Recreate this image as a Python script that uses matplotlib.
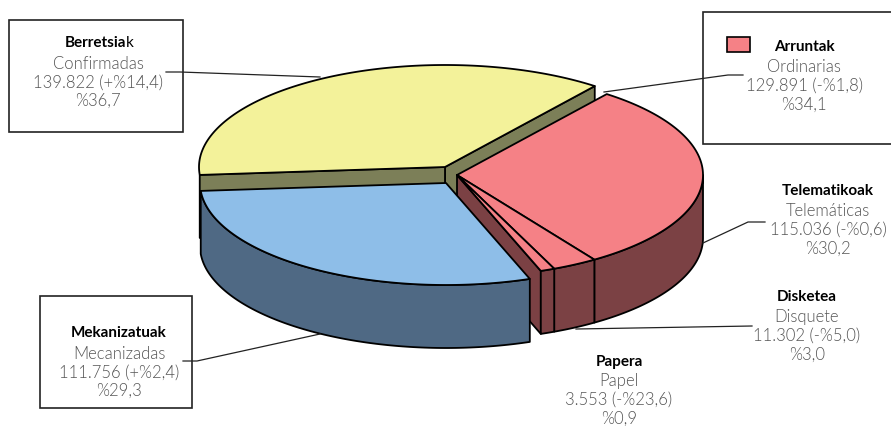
import numpy as np
import matplotlib
matplotlib.use("Agg")
import matplotlib.pyplot as plt

# Counts per channel
names = ["Telematikoak", "Disketea", "Papera", "Mekanizatuak", "Berretsiak"]
counts = [115036, 11302, 3553, 111756, 139822]

# Text of the boxes
arruntak_lines = ["Ordinarias", "129.891 (-%1,8)", "%34,1"]
berretsia_lines = ["Confirmadas", "139.822 (+%14,4)", "%36,7"]
meka_lines = ["Mecanizadas", "111.756 (+%2,4)", "%29,3"]
tele_lines = ["Telemáticas", "115.036 (-%0,6)", "%30,2"]
disk_lines = ["Disquete", "11.302 (-%5,0)", "%3,0"]
paper_lines = ["Papel", "3.553 (-%23,6)", "%0,9"]

YELLOW, OLIVE = "#F3F29A", "#7C7F58"
RED, DARKRED = "#F58186", "#7B4144"
BLUE, DARKBLUE = "#8EBEE8", "#4F6984"
TEXTGREY = "#555555"

RX, RY, DEPTH = 246, 102, 63
START = 52.5
plt.rcParams["font.family"] = ["Lato", "DejaVu Sans"]

# Angles from the counts, going counter clockwise from the start
shares = np.array(counts) / sum(counts) * 360.
yellow_a = (START, START + shares[4])
blue_a = (yellow_a[1], yellow_a[1] + shares[3])
paper_a = (blue_a[1], blue_a[1] + shares[2])
disk_a = (paper_a[1], paper_a[1] + shares[1])
tele_a = (disk_a[1], disk_a[1] + shares[0])


def rim(c, a0, a1, dy=0):
    t = np.radians(np.linspace(a0, a1, 120))
    return c[0] + RX * np.cos(t), c[1] - RY * np.sin(t) + dy


def poly(ax, x, y, color, z):
    ax.fill(x, y, facecolor=color, edgecolor="black", lw=1.3, joinstyle="round", zorder=z)


def top(ax, c, a, color, z):
    x, y = rim(c, a[0], a[1])
    poly(ax, np.r_[c[0], x], np.r_[c[1], y], color, z)


def outer_wall(ax, c, a, color, z):
    x, y = rim(c, a[0], a[1])
    x2, y2 = rim(c, a[1], a[0], DEPTH)
    poly(ax, np.r_[x, x2], np.r_[y, y2], color, z)


def radial_wall(ax, c, angle, color, z):
    x, y = rim(c, angle, angle)
    x, y = x[0], y[0]
    poly(ax, [c[0], x, x, c[0]], [c[1], y, y + DEPTH, c[1] + DEPTH], color, z)


def block(ax, cx, ys, head, lines):
    ax.text(cx, ys[0] + 1, head, ha="center", va="center", fontsize=11, fontweight="bold", color="black", zorder=10)
    for yy, s in zip(ys[1:], lines):
        ax.text(cx, yy + 1, s, ha="center", va="center", fontsize=12, fontweight=300, color=TEXTGREY, zorder=10)


fig = plt.figure(figsize=(8.91, 4.26), dpi=100)
ax = fig.add_axes([0, 0, 1, 1])
ax.set_xlim(0, 891)
ax.set_ylim(426, 0)
ax.axis("off")

yellow_c = (445, 167)
blue_c = (446, 183)
red_c = (457, 175)

# Back to front
radial_wall(ax, yellow_c, yellow_a[0], OLIVE, 1)
radial_wall(ax, yellow_c, yellow_a[1], OLIVE, 1)
top(ax, yellow_c, yellow_a, YELLOW, 2)

radial_wall(ax, red_c, paper_a[0], DARKRED, 3)
outer_wall(ax, red_c, (tele_a[0], 360), DARKRED, 3)
outer_wall(ax, red_c, disk_a, DARKRED, 3)
outer_wall(ax, red_c, paper_a, DARKRED, 3)
top(ax, red_c, tele_a, RED, 4)
top(ax, red_c, disk_a, RED, 4)
top(ax, red_c, paper_a, RED, 4)

outer_wall(ax, blue_c, blue_a, DARKBLUE, 5)
top(ax, blue_c, blue_a, BLUE, 6)

# Boxes
for x0, y0, x1, y1 in [(9, 20, 183, 132), (703, 12, 900, 144), (40, 296, 192, 408)]:
    ax.add_patch(plt.Rectangle((x0, y0), x1 - x0, y1 - y0, fc="white", ec="#222222", lw=1.2, zorder=0.5))
ax.add_patch(plt.Rectangle((727, 37), 23, 15, fc=RED, ec="black", lw=1.2, zorder=7))

# Leader lines
leaders = [
    ([166, 180, 320], [72, 72, 77]),
    ([743, 728, 604], [75, 75, 92]),
    ([703, 748, 765], [243, 222, 222]),
    ([752, 576], [326, 329]),
    ([183, 197, 320], [361, 361, 334]),
]
for lx, ly in leaders:
    ax.plot(lx, ly, color="#222222", lw=0.9, zorder=8)

# Labels
ax.text(126, 43, "Berretsia", ha="right", va="center", fontsize=11, fontweight="bold", color="black", zorder=10)
ax.text(126, 43, "k", ha="left", va="center", fontsize=11, color="black", zorder=10)
block(ax, 98, [42, 63, 82, 100], "", berretsia_lines)
block(ax, 804, [46, 66, 85, 104], "Arruntak", arruntak_lines)
block(ax, 828, [190, 210, 229, 248], names[0], tele_lines)
block(ax, 807, [296, 316, 335, 354], names[1], disk_lines)
block(ax, 619, [361, 380, 399, 418], names[2], paper_lines)
block(ax, 119, [332, 353, 372, 390], names[3], meka_lines)

fig.savefig("out.png", dpi=100)
